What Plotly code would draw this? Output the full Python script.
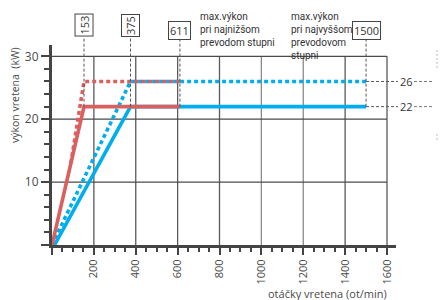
import plotly.graph_objects as go

# ---- data ----
rpm_blue_solid = [12, 375, 1500]
kw_blue_solid = [0, 22, 22]
rpm_blue_dot = [0, 375, 1500]
kw_blue_dot = [0, 26, 26]
rpm_red_solid = [0, 153, 611]
kw_red_solid = [0, 22, 22]
rpm_red_dot = [90, 153, 611]
kw_red_dot = [13, 26, 26]

x_ticks = [0, 200, 400, 600, 800, 1000, 1200, 1400, 1600]
x_ticktext = ["", "200", "400", "600", "800", "1000", "1200", "1400", "1600"]
y_ticks = [0, 10, 20, 30]
y_ticktext = ["", "10", "20", "30"]
grid_y = [10, 20, 30]
marker_rpm = [153, 375, 611, 1500]
marker_labels = ["153", "375", "611", "1500"]
level_kw = [26, 22]
level_labels = ["26", "22"]

XMAX = 1643
YMAX = 31.8
GRID_XMAX = 1600
GRID_YMAX = 30

RED = "#d9605f"
BLUE = "#00aeef"
AX = "#444444"
TXT = "#4a4a4a"
FONT = "Open Sans"
NARROW = "Liberation Sans Narrow, Roboto, sans-serif"

W, H = 441, 300
ML, MR, MT, MB = 52, 45, 45, 55
PW = W - ML - MR
PH = H - MT - MB


def px_x(px):
    return (px - ML) / PW


def px_y(py):
    return (H - MB - py) / PH


fig = go.Figure()
lw = 3.6
fig.add_trace(go.Scatter(x=rpm_blue_solid, y=kw_blue_solid, mode="lines",
                         line=dict(color=BLUE, width=lw), showlegend=False))
fig.add_trace(go.Scatter(x=rpm_blue_dot, y=kw_blue_dot, mode="lines",
                         line=dict(color=BLUE, width=lw, dash="4px,3px"), showlegend=False))
fig.add_trace(go.Scatter(x=rpm_red_solid, y=kw_red_solid, mode="lines",
                         line=dict(color=RED, width=lw), showlegend=False))
fig.add_trace(go.Scatter(x=rpm_red_dot, y=kw_red_dot, mode="lines",
                         line=dict(color=RED, width=lw, dash="4px,3px"), showlegend=False))

shapes = []
# grid
for xv in x_ticks[1:]:
    col = "#8a8a8a" if xv in (1000, 1200) else "#5a5a5a"
    shapes.append(dict(type="line", xref="x", yref="y", x0=xv, x1=xv, y0=0, y1=GRID_YMAX,
                       line=dict(color=col, width=1.3), layer="below"))
for yv in grid_y:
    shapes.append(dict(type="line", xref="x", yref="y", x0=0, x1=GRID_XMAX, y0=yv, y1=yv,
                       line=dict(color="#4a4a4a", width=1.3), layer="below"))

# dashed vertical marker lines from boxes down to the 22 kW level
box_bottom_paper = px_y(38)
for xv in marker_rpm:
    shapes.append(dict(type="line", xref="x", yref="paper", x0=xv, x1=xv,
                       y0=level_kw[1] / YMAX, y1=box_bottom_paper,
                       line=dict(color="#555", width=1, dash="3px,2px"), layer="above"))

# right-side dashed level lines
for yv in level_kw:
    shapes.append(dict(type="line", xref="paper", yref="y", x0=marker_rpm[-1] / XMAX, x1=px_x(398),
                       y0=yv, y1=yv, line=dict(color="#555", width=1, dash="3px,2px")))
    shapes.append(dict(type="line", xref="paper", yref="y", x0=px_x(414), x1=px_x(432),
                       y0=yv, y1=yv, line=dict(color="#777", width=1, dash="3px,2px")))
# faint cut-off marks at far right
shapes.append(dict(type="line", xref="paper", yref="paper", x0=px_x(437), x1=px_x(437),
                   y0=px_y(50), y1=px_y(68), line=dict(color="#bbb", width=1, dash="2px,2px")))
shapes.append(dict(type="line", xref="paper", yref="paper", x0=px_x(437), x1=px_x(437),
                   y0=px_y(134), y1=px_y(140), line=dict(color="#bbb", width=1, dash="2px,2px")))

annotations = []
# marker boxes
box_specs = [(-90, px_y(25.5)), (-90, px_y(25.5)), (0, px_y(30.5)), (0, px_y(30.5))]
for xv, lab, (ang, yc) in zip(marker_rpm, marker_labels, box_specs):
    annotations.append(dict(x=xv, y=yc, xref="x", yref="paper", text=lab, showarrow=False,
                            textangle=ang, font=dict(family=FONT, size=11, color="#333"),
                            bordercolor="#444", borderwidth=1, borderpad=1, bgcolor="white",
                            xanchor="center", yanchor="middle"))
for yv, lab in zip(level_kw, level_labels):
    annotations.append(dict(x=px_x(406), y=yv, xref="paper", yref="y", text=lab, showarrow=False,
                            font=dict(family=FONT, size=11, color="#333"),
                            xanchor="center", yanchor="middle"))
annotations.append(dict(x=px_x(198), y=px_y(9), xref="paper", yref="paper",
                        text="max.výkon<br>pri najnižšom<br>prevodom stupni",
                        showarrow=False, align="left", xanchor="left", yanchor="top",
                        font=dict(family=NARROW, size=10, color="#333")))
annotations.append(dict(x=px_x(289), y=px_y(9), xref="paper", yref="paper",
                        text="max.výkon<br>pri najvyššom<br>prevodovom<br>stupni",
                        showarrow=False, align="left", xanchor="left", yanchor="top",
                        font=dict(family=NARROW, size=10, color="#333")))
annotations.append(dict(x=px_x(15), y=px_y(95), xref="paper", yref="paper",
                        text="výkon vretena  (kW)", textangle=-90, showarrow=False,
                        xanchor="center", yanchor="middle",
                        font=dict(family=FONT, size=10.5, color=TXT)))
annotations.append(dict(x=px_x(389), y=px_y(293), xref="paper", yref="paper",
                        text="otáčky vretena (ot/min)", showarrow=False,
                        xanchor="right", yanchor="middle",
                        font=dict(family=FONT, size=11, color=TXT)))

fig.update_layout(
    width=W, height=H,
    margin=dict(l=ML, r=MR, t=MT, b=MB, pad=0, autoexpand=False),
    paper_bgcolor="white", plot_bgcolor="white",
    shapes=shapes, annotations=annotations,
    showlegend=False,
    xaxis=dict(range=[0, XMAX], tickmode="array", tickvals=x_ticks, ticktext=x_ticktext,
               automargin=False,
               tickangle=-90, ticks="outside", ticklen=7, tickwidth=2, tickcolor=AX,
               showline=True, linewidth=3, linecolor=AX, showgrid=False, zeroline=False,
               tickfont=dict(family=FONT, size=11, color=TXT),
               minor=dict(tickmode="linear", tick0=0, dtick=50, ticks="outside", ticklen=4,
                          tickwidth=1.5, tickcolor=AX, showgrid=False)),
    yaxis=dict(range=[0, YMAX], tickmode="array", tickvals=y_ticks, ticktext=y_ticktext,
               automargin=False,
               ticks="outside", ticklen=8, tickwidth=2, tickcolor=AX,
               showline=True, linewidth=3, linecolor=AX, showgrid=False, zeroline=False,
               tickfont=dict(family=FONT, size=12, color=TXT),
               minor=dict(tickmode="linear", tick0=0, dtick=2, ticks="outside", ticklen=5,
                          tickwidth=1.5, tickcolor=AX, showgrid=False)),
)

fig.write_html("out.html", config={"displayModeBar": False},
               post_script="document.body.style.margin='0';document.body.style.padding='0';")
